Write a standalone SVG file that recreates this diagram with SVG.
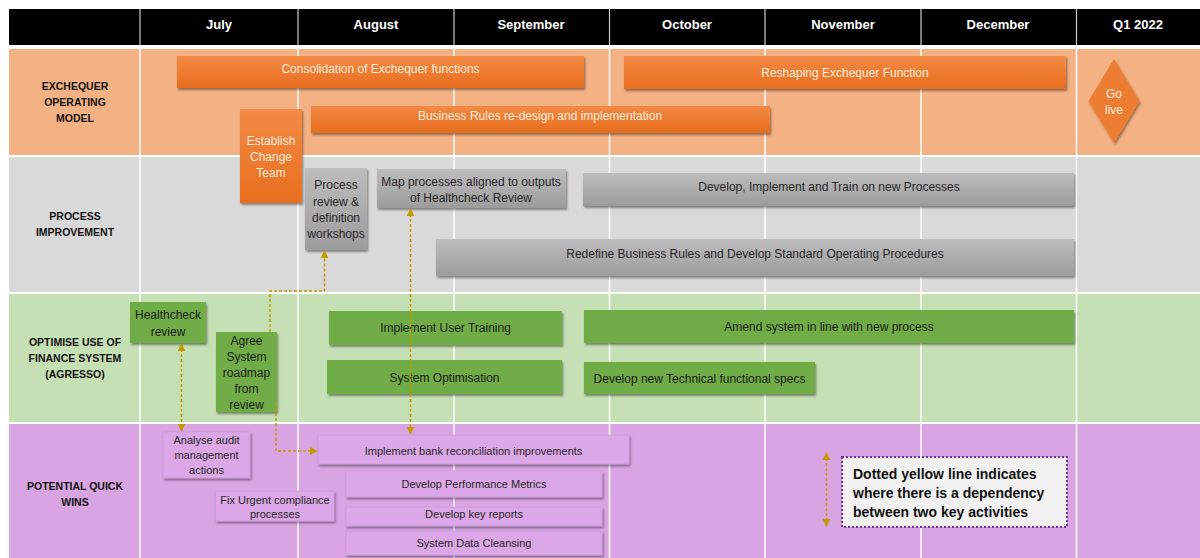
<svg xmlns="http://www.w3.org/2000/svg" width="1200" height="558" viewBox="0 0 1200 558">
<style>
text{font-family:"Liberation Sans",Arial,sans-serif;dominant-baseline:central;text-anchor:middle}
.hdr{fill:#fff;font-size:13px;font-weight:bold}
.lbl{fill:#111;font-size:10.5px;font-weight:bold}
.ot{fill:#FDEBDD;font-size:12px}
.gt{fill:#262626;font-size:12px}
.grt{fill:#1a1a1a;font-size:12px}
.pt{fill:#262626;font-size:11px}
.lt{text-anchor:start;font-size:14px;font-weight:bold;fill:#111}
.ob{fill:url(#og);filter:url(#sh)}
.gb{fill:url(#gg);filter:url(#sh)}
.grb{fill:#70AD47;filter:url(#sh)}
.pb{fill:#DCA7E6;stroke:#CD96D8;stroke-width:0.6;filter:url(#sh)}
.dep{fill:none;stroke:#C49A00;stroke-width:1.5;stroke-dasharray:3 2}
.vl{stroke:#fff;stroke-width:1.5}
</style>
<defs>
<linearGradient id="og" x1="0" y1="0" x2="0" y2="1"><stop offset="0" stop-color="#F38A45"/><stop offset="1" stop-color="#E86E1F"/></linearGradient>
<linearGradient id="gg" x1="0" y1="0" x2="0" y2="1"><stop offset="0" stop-color="#BDBDBD"/><stop offset="1" stop-color="#9C9C9C"/></linearGradient>
<filter id="sh" x="-10%" y="-20%" width="120%" height="150%"><feDropShadow dx="1.2" dy="2" stdDeviation="1" flood-color="#000" flood-opacity="0.4"/></filter>
<marker id="ar" viewBox="0 0 10 10" refX="9" refY="5" markerWidth="8" markerHeight="8" markerUnits="userSpaceOnUse" orient="auto-start-reverse"><path d="M0,0 L10,5 L0,10 z" fill="#C49A00"/></marker>
</defs>
<rect width="1200" height="558" fill="#fff"/>
<g id="header">
<rect x="9" y="9" width="1191" height="36" fill="#000"/>
<g stroke="#ccc" stroke-width="1.2"><line x1="140" y1="9" x2="140" y2="45"/><line x1="298" y1="9" x2="298" y2="45"/><line x1="454" y1="9" x2="454" y2="45"/><line x1="609.5" y1="9" x2="609.5" y2="45"/><line x1="765" y1="9" x2="765" y2="45"/><line x1="921" y1="9" x2="921" y2="45"/><line x1="1076.5" y1="9" x2="1076.5" y2="45"/></g>
<text class="hdr" x="219" y="24">July</text>
<text class="hdr" x="376" y="24">August</text>
<text class="hdr" x="531" y="24">September</text>
<text class="hdr" x="687" y="24">October</text>
<text class="hdr" x="843" y="24">November</text>
<text class="hdr" x="998" y="24">December</text>
<text class="hdr" x="1138" y="24">Q1 2022</text>
</g>
<g id="rows">
<rect x="9" y="49" width="1191" height="106" fill="#F4B183"/>
<rect x="9" y="157" width="1191" height="135" fill="#D9D9D9"/>
<rect x="9" y="294" width="1191" height="128" fill="#C5E0B4"/>
<rect x="9" y="424" width="1191" height="134" fill="#D8A4E2"/>
<line class="vl" x1="140" y1="45" x2="140" y2="558"/><line class="vl" x1="298" y1="45" x2="298" y2="558"/><line class="vl" x1="454" y1="45" x2="454" y2="558"/><line class="vl" x1="609.5" y1="45" x2="609.5" y2="558"/><line class="vl" x1="765" y1="45" x2="765" y2="558"/><line class="vl" x1="921" y1="45" x2="921" y2="558"/><line class="vl" x1="1076.5" y1="45" x2="1076.5" y2="558"/>
<text class="lbl" x="75" y="86">EXCHEQUER</text><text class="lbl" x="75" y="102">OPERATING</text><text class="lbl" x="75" y="118">MODEL</text>
<text class="lbl" x="75" y="216">PROCESS</text><text class="lbl" x="75" y="232">IMPROVEMENT</text>
<text class="lbl" x="75" y="342">OPTIMISE USE OF</text><text class="lbl" x="75" y="358">FINANCE SYSTEM</text><text class="lbl" x="75" y="374">(AGRESSO)</text>
<text class="lbl" x="75" y="486">POTENTIAL QUICK</text><text class="lbl" x="75" y="502">WINS</text>
</g>
<g id="consolidation"><rect class="ob" x="177" y="56" width="407" height="32"/><text class="ot" x="380.5" y="69">Consolidation of Exchequer functions</text></g>
<g id="reshaping"><rect class="ob" x="624" y="56" width="442" height="33"/><text class="ot" x="845" y="73">Reshaping Exchequer Function</text></g>
<g id="golive"><polygon points="1114,59 1139.5,101 1114,143 1088.5,101" fill="#ED7D31" filter="url(#sh)"/><text class="ot" x="1114" y="94">Go</text><text class="ot" x="1114" y="110">live</text></g>
<g id="business-rules"><rect class="ob" x="311" y="106" width="459" height="27"/><text class="ot" x="540" y="116">Business Rules re-design and implementation</text></g>
<g id="change-team"><rect class="ob" x="240" y="109" width="62" height="94"/><text class="ot" x="271" y="141">Establish</text><text class="ot" x="271" y="157">Change</text><text class="ot" x="271" y="173">Team</text></g>
<g id="process-review"><rect class="gb" x="305" y="168" width="62" height="82"/><text class="gt" x="336" y="185">Process</text><text class="gt" x="336" y="201.5">review &amp;</text><text class="gt" x="336" y="218">definition</text><text class="gt" x="336" y="234">workshops</text></g>
<g id="map-processes"><rect class="gb" x="377" y="169" width="189" height="39"/><text class="gt" x="471" y="181.5">Map processes aligned to outputs</text><text class="gt" x="471" y="197.5">of Healthcheck Review</text></g>
<g id="develop-processes"><rect class="gb" x="583" y="173" width="491" height="33"/><text class="gt" x="829" y="186.5">Develop, Implement and Train on new Processes</text></g>
<g id="redefine"><rect class="gb" x="436" y="239" width="638" height="37"/><text class="gt" x="755" y="254">Redefine Business Rules and Develop Standard Operating Procedures</text></g>
<g id="healthcheck"><rect class="grb" x="130" y="302" width="76" height="41"/><text class="grt" x="168" y="315">Healthcheck</text><text class="grt" x="168" y="331.5">review</text></g>
<g id="agree-roadmap"><rect class="grb" x="216" y="332" width="61" height="80"/><text class="grt" x="246.5" y="341">Agree</text><text class="grt" x="246.5" y="357">System</text><text class="grt" x="246.5" y="373">roadmap</text><text class="grt" x="246.5" y="389">from</text><text class="grt" x="246.5" y="405">review</text></g>
<g id="user-training"><rect class="grb" x="329" y="311" width="233" height="34"/><text class="grt" x="445.5" y="328">Implement User Training</text></g>
<g id="system-optimisation"><rect class="grb" x="327" y="360" width="235" height="34"/><text class="grt" x="444.5" y="377.5">System Optimisation</text></g>
<g id="amend-system"><rect class="grb" x="584" y="310" width="490" height="33"/><text class="grt" x="829" y="327">Amend system in line with new process</text></g>
<g id="tech-specs"><rect class="grb" x="584" y="362" width="231" height="32"/><text class="grt" x="699.5" y="379">Develop new Technical functional specs</text></g>
<g id="analyse-audit"><rect class="pb" x="163" y="432" width="87" height="46"/><text class="pt" x="206.5" y="440">Analyse audit</text><text class="pt" x="206.5" y="455">management</text><text class="pt" x="206.5" y="470">actions</text></g>
<g id="fix-urgent"><rect class="pb" x="215.5" y="491" width="118.5" height="30"/><text class="pt" x="275" y="500">Fix Urgent compliance</text><text class="pt" x="275" y="514">processes</text></g>
<g id="bank-reconciliation"><rect class="pb" x="318" y="435" width="311" height="29"/><text class="pt" x="473.5" y="451">Implement bank reconciliation improvements</text></g>
<g id="performance-metrics"><rect class="pb" x="346" y="471" width="256" height="26"/><text class="pt" x="474" y="484">Develop Performance Metrics</text></g>
<g id="key-reports"><rect class="pb" x="346" y="507" width="256" height="19"/><text class="pt" x="474" y="514">Develop key reports</text></g>
<g id="data-cleansing"><rect class="pb" x="346" y="531" width="256" height="24"/><text class="pt" x="474" y="543">System Data Cleansing</text></g>
<g id="connectors">
<path class="dep" d="M270 332 V291 H324.5 V251" marker-end="url(#ar)"/>
<path class="dep" d="M276 403 V451 H317" marker-end="url(#ar)"/>
<path class="dep" d="M410.5 209 V434" marker-start="url(#ar)" marker-end="url(#ar)"/>
<path class="dep" d="M181.5 344 V431" marker-start="url(#ar)" marker-end="url(#ar)"/>
</g>
<g id="legend">
<path class="dep" d="M826.5 453 V526" marker-start="url(#ar)" marker-end="url(#ar)"/>
<rect x="842" y="457" width="225" height="70" fill="#F2F2F2" stroke="#7030A0" stroke-width="2" stroke-dasharray="2 2"/>
<text class="lt" x="853" y="473.5">Dotted yellow line indicates</text>
<text class="lt" x="853" y="492.5">where there is a dependency</text>
<text class="lt" x="853" y="511.5">between two key activities</text>
</g>
</svg>
